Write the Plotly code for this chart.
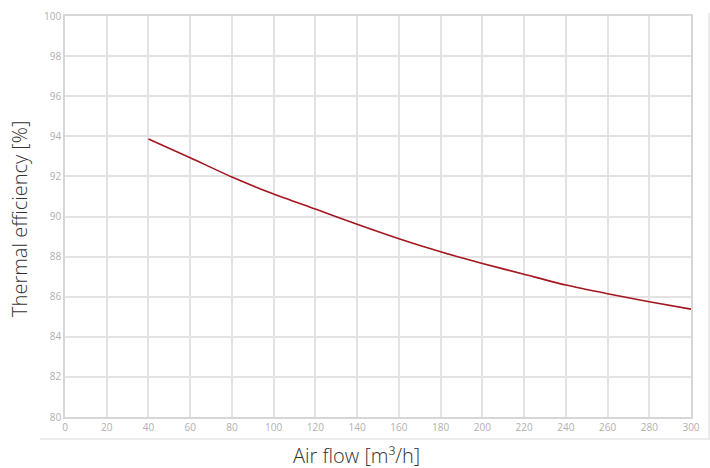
import plotly.graph_objects as go

airflow = [40, 60, 80, 100, 120, 140, 160, 180, 200, 220, 240, 260, 280, 300]
efficiency = [93.87, 92.93, 91.97, 91.12, 90.37, 89.61, 88.89, 88.24, 87.66, 87.12, 86.58, 86.15, 85.75, 85.38]
x_ticks = list(range(0, 301, 20))
y_ticks = list(range(80, 101, 2))

fig = go.Figure()
fig.add_trace(go.Scatter(
    x=airflow, y=efficiency, mode="lines",
    line=dict(color="#a3161f", width=1.6, shape="spline", smoothing=0.6),
    hoverinfo="skip", showlegend=False,
))

grid = "#e3e3e3"
tickfont = dict(size=10, color="#b0b0b0", family="Open Sans")
fig.update_layout(
    width=710, height=468,
    margin=dict(l=65, r=19, t=16, b=51, autoexpand=False),
    paper_bgcolor="white", plot_bgcolor="white",
    font=dict(family="Open Sans", color="#333"),
    xaxis=dict(
        range=[0, 300], tickvals=x_ticks, ticktext=[str(v) for v in x_ticks],
        showgrid=True, gridcolor=grid, gridwidth=1.5,
        showline=True, linecolor="#d6d6d6", linewidth=1.5, mirror=True,
        zeroline=False, ticks="", automargin=False,
        tickfont=tickfont,
    ),
    yaxis=dict(
        range=[80, 100], tickvals=y_ticks, ticktext=[str(v) for v in y_ticks],
        showgrid=True, gridcolor=grid, gridwidth=1.5,
        showline=True, linecolor="#d6d6d6", linewidth=1.5, mirror=True,
        zeroline=False, ticks="", automargin=False,
        tickfont=tickfont,
    ),
    annotations=[
        dict(text="Air flow [m³/h]", xref="paper", yref="paper",
             x=0.465, y=-0.096, xanchor="center", yanchor="middle", showarrow=False,
             font=dict(size=20, color="#333", family="Open Sans", weight=300)),
        dict(text="Thermal efficiency [%]", xref="paper", yref="paper",
             x=-0.0719, y=0.494, xanchor="center", yanchor="middle", textangle=-90, showarrow=False,
             font=dict(size=20, color="#333", family="Open Sans", weight=300)),
    ],
    shapes=[
        dict(type="line", xref="paper", yref="paper", x0=-0.04, x1=1.0304, y0=-0.0549, y1=-0.0549,
             line=dict(color="#e6e6e6", width=1.5)),
        dict(type="line", xref="paper", yref="paper", x0=1.0288, x1=1.0288, y0=-0.0549, y1=1.0075,
             line=dict(color="#e6e6e6", width=1.5)),
    ],
)

fig.write_html("out.html", config={"displayModeBar": False},
               post_script="document.body.style.margin='0';document.body.style.overflow='hidden';")
